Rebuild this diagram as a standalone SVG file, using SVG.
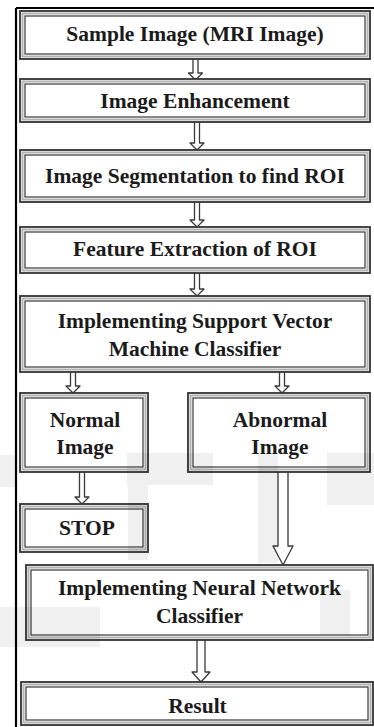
<svg xmlns="http://www.w3.org/2000/svg" width="374" height="727" viewBox="0 0 374 727">
<style>
.o{fill:#fff;stroke:#333;stroke-width:1.8}
.m{fill:none;stroke:#b4b4b4;stroke-width:2}
.i{fill:#fff;stroke:#383838;stroke-width:1.2}
.t{font-family:"Liberation Serif","Times New Roman",serif;font-weight:bold;font-size:21.5px;fill:#1b1b1b;text-anchor:middle}
.a{fill:#fff;stroke:#3a3a3a;stroke-width:1.3;stroke-linejoin:round}
.w{fill:#000;opacity:0.06}
</style>
<rect width="374" height="727" fill="#fff"/>
<g id="frame">
<line x1="16" y1="8" x2="374" y2="8" stroke="#000" stroke-width="2.2"/>
<line x1="16" y1="8" x2="16" y2="727" stroke="#000" stroke-width="2.2"/>
</g>
<g id="connectors">
<path class="a" d="M193,59 V73 H188.5 L195.5,80 L202.5,73 H198 V59"/>
<path class="a" d="M194.5,122 V143 H190 L197,150 L204,143 H199.5 V122"/>
<path class="a" d="M194.5,202 V220 H190 L197,227 L204,220 H199.5 V202"/>
<path class="a" d="M194.5,273 V289 H190 L197,296 L204,289 H199.5 V273"/>
<path class="a" d="M70.5,372 V386 H66 L73,393 L80,386 H75.5 V372"/>
<path class="a" d="M279.5,372 V386 H275 L282,393 L289,386 H284.5 V372"/>
<path class="a" d="M79.5,472 V497 H75 L82,504 L89,497 H84.5 V472"/>
<path class="a" d="M278,472 V546 H273 L283,565 L293,546 H288 V472"/>
<path class="a" d="M197,640 V672 H192 L201,682 L210,672 H205 V640"/>
</g>
<g id="n1">
<rect class="o" x="20" y="11" width="350" height="48"/>
<rect class="m" x="22.5" y="13.5" width="345" height="43"/>
<rect class="i" x="25" y="16" width="340" height="38"/>
<text class="t" x="195" y="41">Sample Image (MRI Image)</text>
</g>
<g id="n2">
<rect class="o" x="20" y="79" width="350" height="43"/>
<rect class="m" x="22.5" y="81.5" width="345" height="38"/>
<rect class="i" x="25" y="84" width="340" height="33"/>
<text class="t" x="195" y="108">Image Enhancement</text>
</g>
<g id="n3">
<rect class="o" x="20" y="150" width="350" height="52"/>
<rect class="m" x="22.5" y="152.5" width="345" height="47"/>
<rect class="i" x="25" y="155" width="340" height="42"/>
<text class="t" x="195" y="183">Image Segmentation to find ROI</text>
</g>
<g id="n4">
<rect class="o" x="20" y="227" width="350" height="46"/>
<rect class="m" x="22.5" y="229.5" width="345" height="41"/>
<rect class="i" x="25" y="232" width="340" height="36"/>
<text class="t" x="195" y="256">Feature Extraction of ROI</text>
</g>
<g id="n5">
<rect class="o" x="20" y="296" width="350" height="76"/>
<rect class="m" x="22.5" y="298.5" width="345" height="71"/>
<rect class="i" x="25" y="301" width="340" height="66"/>
<text class="t" x="195" y="328">Implementing Support Vector</text>
<text class="t" x="195" y="356">Machine Classifier</text>
</g>
<g id="n6">
<rect class="o" x="20" y="393" width="128" height="79"/>
<rect class="m" x="22.5" y="395.5" width="123" height="74"/>
<rect class="i" x="25" y="398" width="118" height="69"/>
<text class="t" x="85" y="427">Normal</text>
<text class="t" x="85" y="454">Image</text>
</g>
<g id="n7">
<rect class="o" x="188" y="393" width="182" height="79"/>
<rect class="m" x="190.5" y="395.5" width="177" height="74"/>
<rect class="i" x="193" y="398" width="172" height="69"/>
<text class="t" x="280" y="427">Abnormal</text>
<text class="t" x="280" y="454">Image</text>
</g>
<g id="n8">
<rect class="o" x="20" y="504" width="128" height="48"/>
<rect class="m" x="22.5" y="506.5" width="123" height="43"/>
<rect class="i" x="25" y="509" width="118" height="38"/>
<text class="t" x="87" y="535">STOP</text>
</g>
<g id="n9">
<rect class="o" x="26" y="565" width="347" height="75"/>
<rect class="m" x="28.5" y="567.5" width="342" height="70"/>
<rect class="i" x="31" y="570" width="337" height="65"/>
<text class="t" x="199.5" y="595">Implementing Neural Network</text>
<text class="t" x="199.5" y="623">Classifier</text>
</g>
<g id="n10">
<rect class="o" x="21" y="682" width="352" height="43"/>
<rect class="m" x="23.5" y="684.5" width="347" height="38"/>
<rect class="i" x="26" y="687" width="342" height="33"/>
<text class="t" x="197.5" y="713">Result</text>
</g>
<g id="watermark">
<rect class="w" x="0" y="455" width="15" height="32"/>
<rect class="w" x="127" y="453" width="86" height="32"/>
<rect class="w" x="128" y="485" width="20" height="75"/>
<rect class="w" x="258" y="453" width="20" height="110"/>
<rect class="w" x="327" y="453" width="47" height="52"/>
<rect class="w" x="0" y="607" width="100" height="40"/>
<rect class="w" x="320" y="590" width="30" height="45"/>
</g>
</svg>
